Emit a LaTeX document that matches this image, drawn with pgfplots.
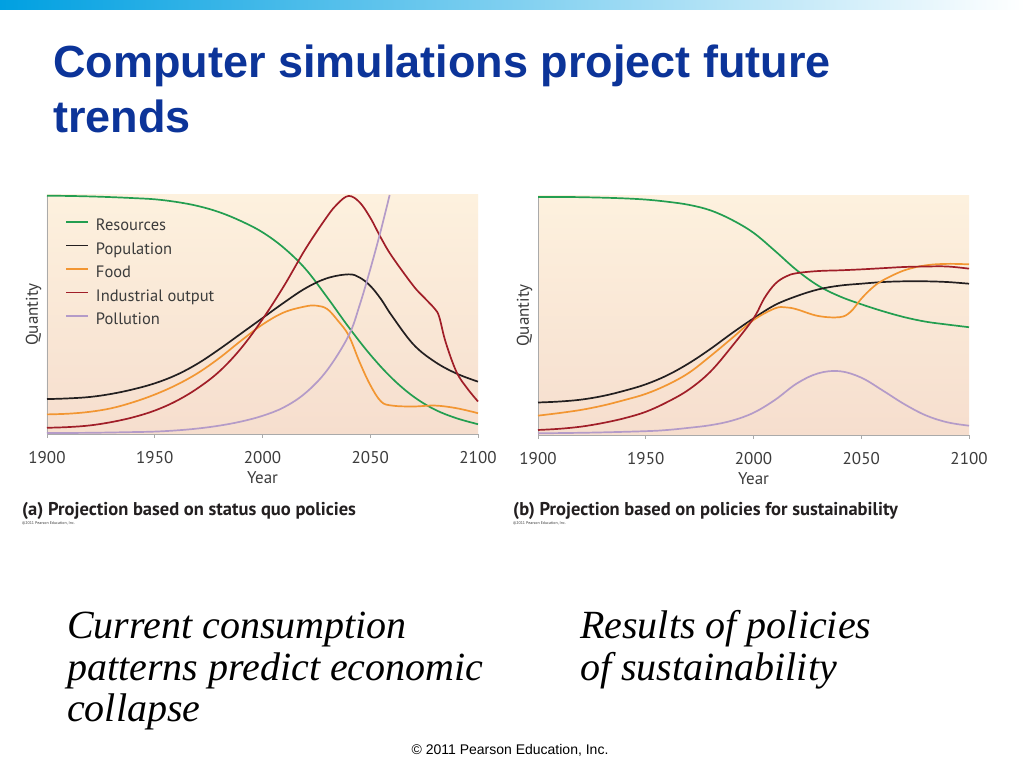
\documentclass[border=0pt]{standalone}
\usepackage{fontspec}
\setmainfont{Liberation Sans}
\newfontfamily\chartfont{PT Sans}
\newfontfamily\timesfont{Liberation Serif}
\usepackage{pgfplots}
\pgfplotsset{compat=1.18}

\definecolor{titleblue}{RGB}{12,52,153}
\definecolor{barblue}{RGB}{0,160,225}
\definecolor{resgreen}{RGB}{35,158,80}
\definecolor{popblack}{RGB}{35,31,32}
\definecolor{foodorange}{RGB}{242,150,50}
\definecolor{inddred}{RGB}{160,30,40}
\definecolor{pollpurple}{RGB}{180,155,200}
\definecolor{bgtop}{RGB}{253,241,222}
\definecolor{bgbot}{RGB}{246,222,206}
\definecolor{axisgray}{RGB}{170,170,170}
\definecolor{labelgray}{RGB}{60,60,60}

\pgfplotsset{
  panel/.style={
    scale only axis, width=431pt, height=239pt,
    xmin=1900, xmax=2100, ymin=0, ymax=1,
    axis x line*=bottom, axis y line*=left,
    axis line style={draw=axisgray, line width=0.8pt},
    xtick={1900,1950,2000,2050,2100}, ytick=\empty,
    major tick length=4pt, tick align=outside,
    tick style={draw=axisgray, line width=0.8pt},
    /pgf/number format/1000 sep={},
    /pgf/number format/assume math mode=true,
    xticklabel style={font=\chartfont\fontsize{17}{20}\selectfont, text=labelgray,
      anchor=base, yshift=-26pt, inner sep=0pt},
    xlabel={Year}, ylabel={Quantity},
    label style={font=\chartfont\fontsize{17}{20}\selectfont, text=labelgray, inner sep=0pt},
    xlabel style={at={(axis description cs:0.5,-0.209)}, anchor=base},
    ylabel style={at={(axis description cs:-0.021,0.5)}, anchor=base},
    axis background/.style={shade, top color=bgtop, bottom color=bgbot},
    clip=false,
  },
  crv/.style={line width=1.7pt, smooth, tension=0.6, no markers, #1},
}

\begin{document}
\begin{tikzpicture}[x=1pt,y=1pt]
\fill[white] (0,0) rectangle (1024,768);
\useasboundingbox (0,0) rectangle (1024,768);
\shade[left color=barblue, right color=white] (0,758) rectangle (1024,768);

\begin{scope}[every node/.style={inner sep=0pt}]
\node[anchor=base west, text=titleblue, font=\bfseries\fontsize{45}{55}\selectfont] at (53,690) {Computer simulations project future};
\node[anchor=base west, text=titleblue, font=\bfseries\fontsize{45}{55}\selectfont] at (53,635) {trends};
\end{scope}

% (a) status quo
\begin{axis}[panel, at={(47pt,334pt)}, anchor=south west,
  legend style={at={(axis description cs:0.035,0.91)}, anchor=north west,
    draw=none, fill=none, font=\chartfont\fontsize{16.5}{19}\selectfont, text=labelgray,
    nodes={inner sep=0pt, text height=12pt, text depth=3.5pt},
    row sep=8pt, column sep=7pt, cells={anchor=west}},
  legend image code/.code={\draw[#1] (0pt,4.5pt) -- (22pt,4.5pt);},
]
\addplot[crv=resgreen] coordinates {(1900,0.997)(1910,0.996)(1920,0.994)(1930,0.991)(1940,0.987)(1950,0.982)(1960,0.971)(1970,0.954)(1980,0.928)(1990,0.891)(2000,0.844)(2010,0.778)(2020,0.690)(2030,0.572)(2040,0.447)(2050,0.332)(2060,0.234)(2070,0.157)(2080,0.102)(2090,0.066)(2100,0.041)};
\addplot[crv=popblack] coordinates {(1900,0.146)(1910,0.149)(1920,0.155)(1930,0.168)(1940,0.187)(1950,0.212)(1960,0.247)(1970,0.295)(1980,0.355)(1990,0.420)(2000,0.485)(2010,0.550)(2020,0.610)(2030,0.652)(2040,0.668)(2045,0.655)(2050,0.620)(2055,0.564)(2060,0.495)(2070,0.375)(2080,0.302)(2090,0.253)(2100,0.219)};
\addplot[crv=foodorange] coordinates {(1900,0.082)(1910,0.085)(1920,0.093)(1930,0.108)(1940,0.133)(1950,0.165)(1960,0.205)(1970,0.255)(1980,0.318)(1990,0.390)(2000,0.458)(2010,0.509)(2020,0.534)(2025,0.537)(2030,0.523)(2035,0.474)(2040,0.412)(2045,0.302)(2050,0.205)(2055,0.136)(2060,0.119)(2070,0.115)(2080,0.119)(2090,0.108)(2100,0.087)};
\addplot[crv=inddred] coordinates {(1900,0.026)(1910,0.029)(1920,0.036)(1930,0.050)(1940,0.070)(1950,0.098)(1960,0.138)(1970,0.192)(1980,0.262)(1990,0.358)(2000,0.480)(2010,0.620)(2020,0.775)(2030,0.910)(2035,0.965)(2040,0.996)(2045,0.970)(2050,0.905)(2055,0.820)(2060,0.744)(2070,0.620)(2075,0.571)(2080,0.523)(2082,0.490)(2085,0.384)(2090,0.260)(2095,0.191)(2100,0.136)};
\addplot[crv=pollpurple] coordinates {(1900,0.004)(1920,0.005)(1940,0.008)(1950,0.010)(1960,0.015)(1970,0.023)(1980,0.035)(1990,0.052)(2000,0.076)(2010,0.112)(2020,0.172)(2030,0.267)(2040,0.412)(2045,0.537)(2050,0.689)(2055,0.855)(2059,1.0)};
\legend{Resources,Population,Food,Industrial output,Pollution}
\end{axis}

% (b) sustainability
\begin{axis}[panel, at={(538pt,333pt)}, anchor=south west]
\addplot[crv=resgreen] coordinates {(1900,0.996)(1910,0.996)(1920,0.995)(1930,0.993)(1940,0.990)(1950,0.985)(1960,0.976)(1970,0.963)(1980,0.940)(1990,0.900)(2000,0.846)(2010,0.770)(2020,0.690)(2030,0.625)(2040,0.580)(2050,0.547)(2060,0.518)(2070,0.493)(2080,0.474)(2090,0.462)(2100,0.451)};
\addplot[crv=popblack] coordinates {(1900,0.136)(1910,0.140)(1920,0.148)(1930,0.163)(1940,0.185)(1950,0.212)(1960,0.250)(1970,0.300)(1980,0.360)(1990,0.426)(2000,0.488)(2010,0.544)(2020,0.581)(2030,0.609)(2040,0.625)(2050,0.633)(2060,0.640)(2070,0.643)(2080,0.643)(2090,0.640)(2100,0.633)};
\addplot[crv=foodorange] coordinates {(1900,0.081)(1910,0.092)(1920,0.105)(1930,0.123)(1940,0.146)(1950,0.172)(1960,0.210)(1970,0.260)(1980,0.330)(1990,0.405)(2000,0.481)(2010,0.530)(2015,0.534)(2020,0.526)(2030,0.498)(2040,0.493)(2045,0.515)(2050,0.570)(2055,0.615)(2060,0.647)(2070,0.689)(2080,0.710)(2090,0.716)(2100,0.714)};
\addplot[crv=inddred] coordinates {(1900,0.021)(1910,0.026)(1920,0.035)(1930,0.050)(1940,0.070)(1950,0.097)(1960,0.138)(1970,0.190)(1980,0.265)(1990,0.371)(2000,0.488)(2005,0.572)(2010,0.632)(2015,0.663)(2020,0.677)(2030,0.686)(2040,0.689)(2050,0.693)(2060,0.698)(2070,0.703)(2080,0.705)(2090,0.705)(2100,0.696)};
\addplot[crv=pollpurple] coordinates {(1900,0.007)(1925,0.010)(1950,0.016)(1960,0.021)(1970,0.030)(1980,0.041)(1990,0.060)(2000,0.093)(2010,0.147)(2020,0.215)(2030,0.258)(2040,0.267)(2050,0.240)(2060,0.186)(2070,0.129)(2080,0.082)(2090,0.053)(2100,0.039)};
\end{axis}

\begin{scope}[every node/.style={inner sep=0pt, anchor=base west}]
\node[text=popblack, font=\chartfont\bfseries\fontsize{18.5}{21}\selectfont] at (22,252) {(a) Projection based on status quo policies};
\node[text=labelgray, font=\chartfont\fontsize{4}{5}\selectfont] at (22,243) {\textcopyright 2011 Pearson Education, Inc.};
\node[text=popblack, font=\chartfont\bfseries\fontsize{18.5}{21}\selectfont] at (513,252) {(b) Projection based on policies for sustainability};
\node[text=labelgray, font=\chartfont\fontsize{4}{5}\selectfont] at (513,243) {\textcopyright 2011 Pearson Education, Inc.};
\end{scope}

\begin{scope}[every node/.style={inner sep=0pt, anchor=base west, font=\timesfont\itshape\fontsize{40}{42}\selectfont}]
\node at (67,130) {Current consumption};
\node at (67,88) {patterns predict economic};
\node at (67,47) {collapse};
\node at (580,130) {Results of policies};
\node at (580,88) {of sustainability};
\end{scope}

\node[inner sep=0pt, anchor=base, font=\fontsize{14}{16}\selectfont] at (510,14) {\textcopyright{} 2011 Pearson Education, Inc.};
\end{tikzpicture}
\end{document}
